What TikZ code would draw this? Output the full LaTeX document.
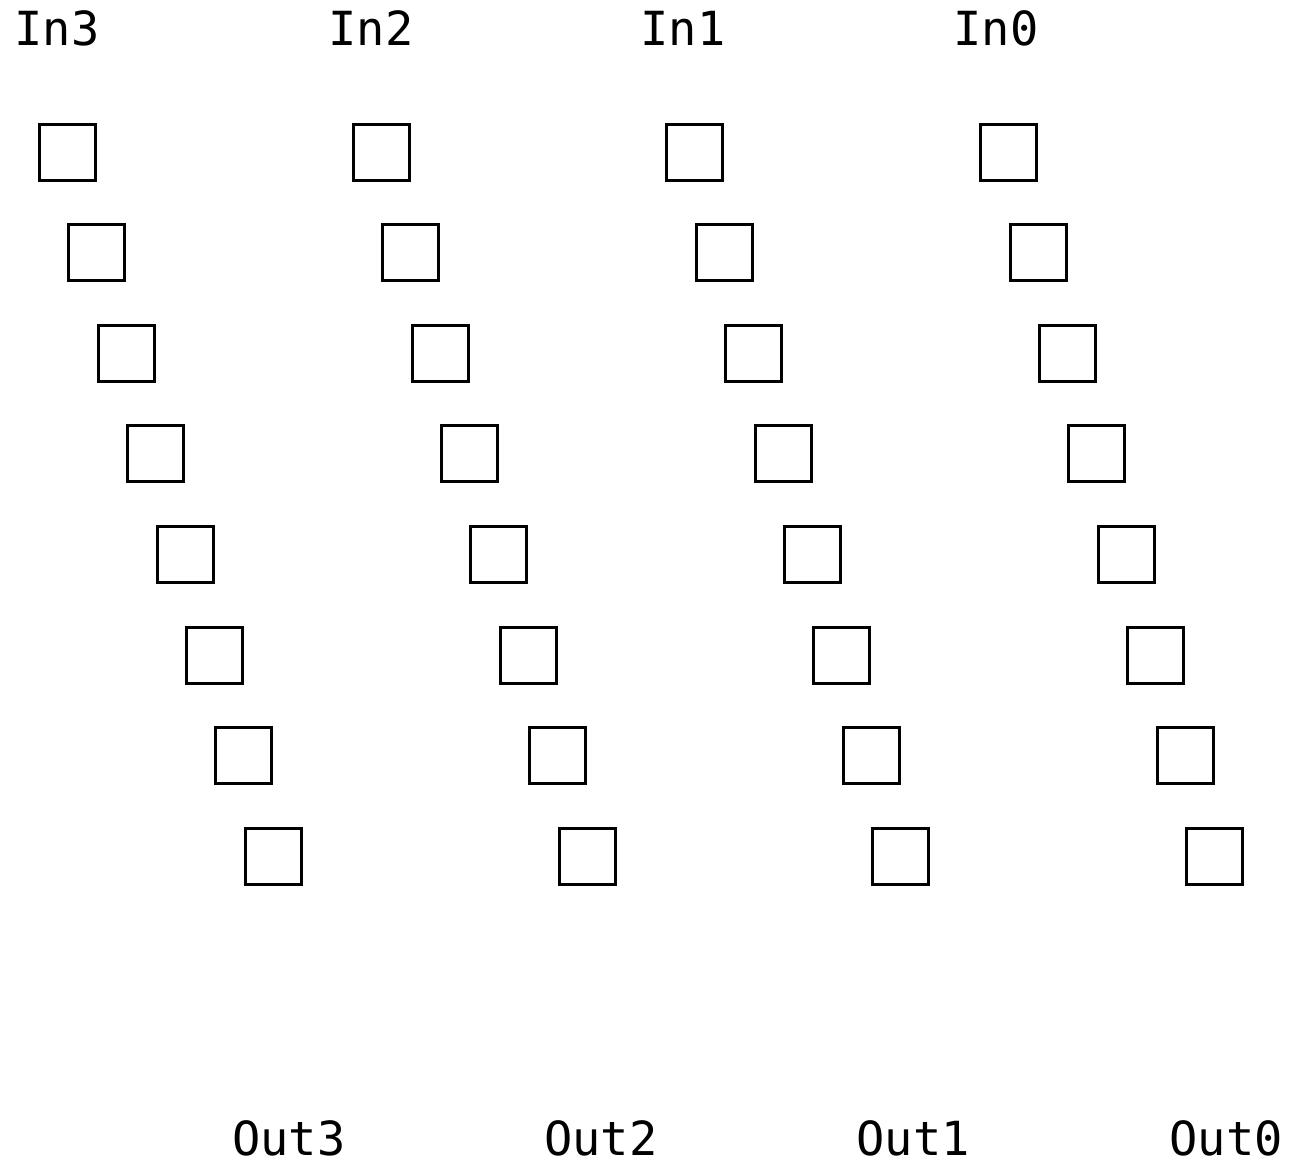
\documentclass[tikz,border=0pt]{standalone}
\usepackage{fontspec}
\setmonofont{DejaVu Sans Mono}
\begin{document}
\begin{tikzpicture}[x=1pt,y=-1pt,
  cell/.style={draw=black, line width=3pt, minimum size=56pt, inner sep=0pt},
  lbl/.style={font=\ttfamily\fontsize{47}{47}\selectfont, anchor=base, inner sep=0pt, text depth=0pt}]
  \useasboundingbox (0,0) rectangle (1294,1162);
  % four staggered columns of eight cells
  \foreach \c in {0,...,3} {
    \foreach \r in {0,...,7} {
      \node[cell] (b\c-\r) at ({67.5+313.7*\c+29.4*\r},{152+100.6*\r}) {};
    }
  }
  % input labels (In3 on the left down to In0)
  \node[lbl] (in3) at (57,45) {In3};
  \node[lbl] (in2) at (371,45) {In2};
  \node[lbl] (in1) at (683,45) {In1};
  \node[lbl] (in0) at (996,45) {In0};
  % output labels
  \node[lbl] (out3) at (289,1155) {Out3};
  \node[lbl] (out2) at (601,1155) {Out2};
  \node[lbl] (out1) at (913,1155) {Out1};
  \node[lbl] (out0) at (1226,1155) {Out0};
\end{tikzpicture}
\end{document}
